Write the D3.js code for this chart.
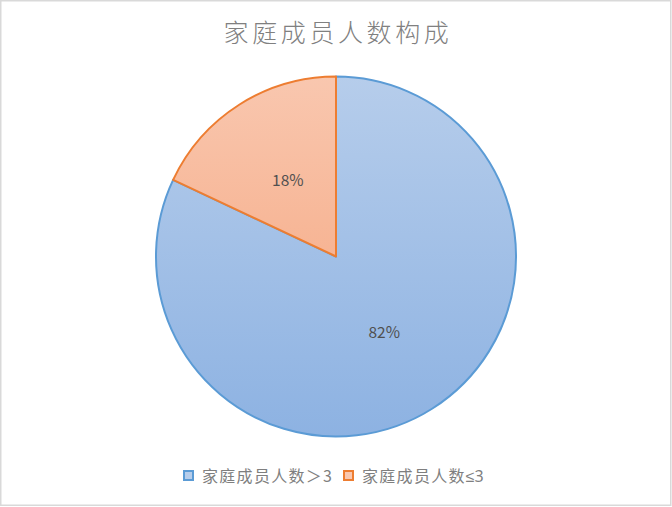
<!DOCTYPE html>
<html>
<head>
<meta charset="utf-8">
<script src="https://cdn.jsdelivr.net/npm/d3@7"></script>
<style>
  body { margin: 0; background: #fff; }
  svg { display: block; font-family: "Noto Sans CJK SC", "Noto Sans", sans-serif; }
</style>
</head>
<body>
<script>
// chart data
var categories = ["家庭成员人数＞3", "家庭成员人数"];
var catTails = ["", "≤3"];
var values = [82, 18];
var labels = ["82%", "18%"];

var w = 672, h = 507;
var cx = 336, cy = 256.5, r = 180;

var fills = [["#b6cdeb", "#8db2e2"], ["#f9c7af", "#f4a178"]];
var strokes = ["#5b9bd5", "#ed7d31"];

var svg = d3.select("body").append("svg")
    .attr("width", w)
    .attr("height", h);

svg.append("rect")
    .attr("x", 0.75).attr("y", 0.75)
    .attr("width", w - 2).attr("height", h - 2.5)
    .style("fill", "#fff")
    .style("stroke", "#d9d9d9")
    .style("stroke-width", 1.5);

var defs = svg.append("defs");
fills.forEach(function (f, i) {
    var g = defs.append("linearGradient")
        .attr("id", "grad" + i)
        .attr("gradientUnits", "userSpaceOnUse")
        .attr("x1", 0).attr("y1", -r)
        .attr("x2", 0).attr("y2", r);
    g.append("stop").attr("offset", "0%").attr("stop-color", f[0]);
    g.append("stop").attr("offset", "100%").attr("stop-color", f[1]);
});

svg.append("text")
    .attr("x", w / 2 + 2)
    .attr("y", 42)
    .attr("text-anchor", "middle")
    .style("font-size", "25px")
    .style("font-weight", 300)
    .style("letter-spacing", "3.6px")
    .style("fill", "#808080")
    .text("家庭成员人数构成");

var pie = d3.pie().sort(null).value(function (d) { return d; });
var arcs = pie(values);
var arc = d3.arc().innerRadius(0).outerRadius(r);

var g = svg.append("g")
    .attr("transform", "translate(" + cx + "," + cy + ")");

g.selectAll("path.slice")
    .data(arcs)
    .enter().append("path")
    .attr("class", "slice")
    .attr("d", arc)
    .style("fill", function (d, i) { return "url(#grad" + i + ")"; })
    .style("stroke", function (d, i) { return strokes[i]; })
    .style("stroke-width", 2)
    .style("stroke-linejoin", "round");

g.selectAll("text.lbl")
    .data(arcs)
    .enter().append("text")
    .attr("class", "lbl")
    .attr("transform", function (d) { return "translate(" + arc.centroid(d) + ")"; })
    .attr("text-anchor", "middle")
    .attr("dy", "0.35em")
    .style("font-size", "15.5px")
    .style("fill", "#505050")
    .text(function (d, i) { return labels[i]; });

// legend
var legend = svg.append("g").attr("class", "legend");
var lx = [183, 343];
categories.forEach(function (c, i) {
    var item = legend.append("g").attr("transform", "translate(" + lx[i] + ",470)");
    item.append("rect")
        .attr("x", 1).attr("y", 1)
        .attr("width", 9).attr("height", 9)
        .style("fill", fills[i][0])
        .style("stroke", strokes[i])
        .style("stroke-width", 2);
    var t = item.append("text")
        .attr("x", 19)
        .attr("y", 11.5)
        .style("font-size", "16px")
        .style("letter-spacing", "1.3px")
        .style("fill", "#7f7f7f")
        .text(c);
    if (catTails[i]) {
        t.append("tspan")
            .style("font-family", "'Noto Sans', sans-serif")
            .style("letter-spacing", "0px")
            .text(catTails[i]);
    }
});
</script>
</body>
</html>
